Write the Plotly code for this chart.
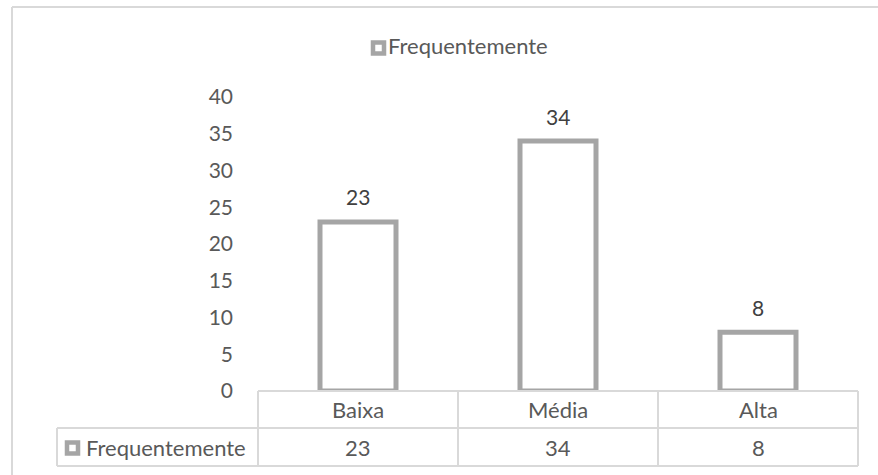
import plotly.graph_objects as go

# Chart data
categories = ["Baixa", "Média", "Alta"]
series_name = "Frequentemente"
values = [23, 34, 8]
y_ticks = [0, 5, 10, 15, 20, 25, 30, 35, 40]

W, H = 878, 475
ML, MR, MT, MB = 258, 20, 97, 84
PW, PH = W - ML - MR, H - MT - MB

def px_x(p):
    return (p - ML) / PW

def px_y(p):
    return (H - MB - p) / PH

GRID = "#d9d9d9"
BAR_LINE = "#a5a5a5"
TXT = "#595959"
LBL = "#404040"
FONT = "Lato"

fig = go.Figure()
fig.add_trace(go.Bar(
    x=categories, y=values, name=series_name, width=0.38,
    marker=dict(color="white", line=dict(color=BAR_LINE, width=5)),
    showlegend=False,
))

shapes = []
annotations = []

def text(x, y, s, size=22, color=TXT, xanchor="center", **kw):
    annotations.append(dict(x=x, y=y, text=s, showarrow=False, xanchor=xanchor,
                            yanchor="middle", font=dict(family=FONT, size=size, color=color), **kw))

# value labels above the bars
for c, v in zip(categories, values):
    text(c, v, str(v), size=21, color=LBL, xref="x", yref="y", yshift=25)

# data table under the plot
n = len(categories)
row1 = px_y(428)
row2 = px_y(466)
left_cell = px_x(57)
line = dict(color=GRID, width=2)

def seg(x0, x1, y0, y1, ln=line):
    shapes.append(dict(type="line", xref="paper", yref="paper", x0=x0, x1=x1, y0=y0, y1=y1, line=ln))

seg(0, 1, 0, 0)
seg(left_cell, 1, row1, row1)
seg(left_cell, 1, row2, row2)
seg(left_cell, left_cell, row1, row2)
for i in range(n + 1):
    seg(i / n, i / n, 0, row2)
for i, (c, v) in enumerate(zip(categories, values)):
    xc = (i + 0.5) / n
    text(xc, row1 / 2, c, xref="paper", yref="paper")
    text(xc, (row1 + row2) / 2, str(v), xref="paper", yref="paper")

def key(x0, yc, size=11):
    shapes.append(dict(type="rect", xref="paper", yref="paper",
                       x0=px_x(x0), x1=px_x(x0 + size),
                       y0=px_y(yc + size / 2), y1=px_y(yc - size / 2),
                       fillcolor="white", line=dict(color=BAR_LINE, width=4.5)))

# legend key in the table
kc = (428 + 466) / 2
key(67, kc + 1)
text(px_x(84), (row1 + row2) / 2, series_name, xanchor="left", xref="paper", yref="paper")

# series legend above the plot
key(373, 48)
text(px_x(386), px_y(46), series_name, xanchor="left", xref="paper", yref="paper")

# outer chart border
seg(px_x(12), px_x(890), px_y(7), px_y(7))
seg(px_x(12), px_x(12), px_y(7), px_y(490))

fig.update_layout(
    width=W, height=H,
    margin=dict(l=ML, r=MR, t=MT, b=MB),
    paper_bgcolor="white", plot_bgcolor="white",
    font=dict(family=FONT, size=22, color=TXT),
    showlegend=False,
    xaxis=dict(range=[-0.5, 2.5], showticklabels=False, showgrid=False, showline=False,
               zeroline=False, ticks=""),
    yaxis=dict(range=[0, 40], tickvals=y_ticks, showgrid=False, showline=False, zeroline=False,
               ticks="", ticklabelstandoff=24, tickfont=dict(family=FONT, size=21, color=TXT)),
    shapes=shapes,
    annotations=annotations,
)

fig.write_html("out.html")
